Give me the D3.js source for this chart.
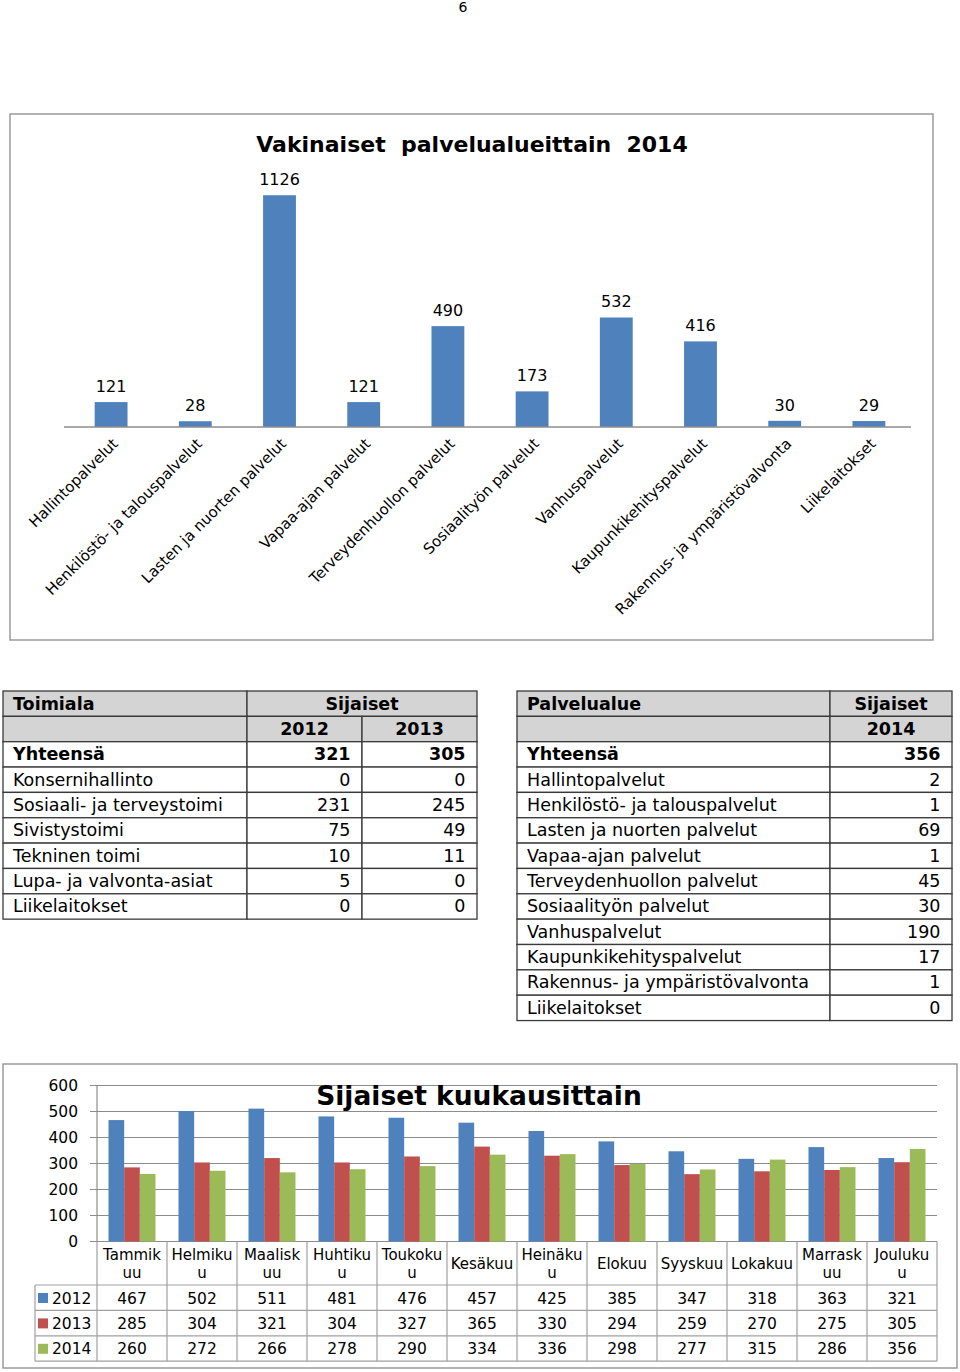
<!DOCTYPE html>
<html>
<head>
<meta charset="utf-8">
<script src="https://cdn.jsdelivr.net/npm/d3@7"></script>
<style>
  body { margin: 0; background: #fff; }
  svg { display: block; font-family: "DejaVu Sans", Verdana, sans-serif; }
</style>
</head>
<body>
<svg id="page" width="960" height="1372"></svg>
<script>
// --- data ---
const services = ["Hallintopalvelut", "Henkilöstö- ja talouspalvelut", "Lasten ja nuorten palvelut",
  "Vapaa-ajan palvelut", "Terveydenhuollon palvelut", "Sosiaalityön palvelut", "Vanhuspalvelut",
  "Kaupunkikehityspalvelut", "Rakennus- ja ympäristövalvonta", "Liikelaitokset"];
const permanent2014 = [121, 28, 1126, 121, 490, 173, 532, 416, 30, 29];

const divisions = ["Konsernihallinto", "Sosiaali- ja terveystoimi", "Sivistystoimi",
  "Tekninen toimi", "Lupa- ja valvonta-asiat", "Liikelaitokset"];
const subs2012 = [0, 231, 75, 10, 5, 0];
const subs2013 = [0, 245, 49, 11, 0, 0];
const subs2014 = [2, 1, 69, 1, 45, 30, 190, 17, 1, 0];

const months = ["Tammikuu", "Helmikuu", "Maaliskuu", "Huhtikuu", "Toukokuu", "Kesäkuu",
  "Heinäkuu", "Elokuu", "Syyskuu", "Lokakuu", "Marraskuu", "Joulukuu"];
// month names as wrapped in the original table cells
const monthLines = [["Tammik", "uu"], ["Helmiku", "u"], ["Maalisk", "uu"], ["Huhtiku", "u"],
  ["Toukoku", "u"], ["Kesäkuu"], ["Heinäku", "u"], ["Elokuu"], ["Syyskuu"], ["Lokakuu"],
  ["Marrask", "uu"], ["Jouluku", "u"]];
const years = ["2012", "2013", "2014"];
const monthly2012 = [467, 502, 511, 481, 476, 457, 425, 385, 347, 318, 363, 321];
const monthly2013 = [285, 304, 321, 304, 327, 365, 330, 294, 259, 270, 275, 305];
const monthly2014 = [260, 272, 266, 278, 290, 334, 336, 298, 277, 315, 286, 356];
const yTicks = [0, 100, 200, 300, 400, 500, 600];

const seriesColor = d3.scaleOrdinal().domain(years).range(["#4f81bd", "#c0504d", "#9bbb59"]);

const svg = d3.select("#page");
svg.append("rect").attr("width", 960).attr("height", 1372).attr("fill", "#fff");

// page number
svg.append("text").attr("x", 463).attr("y", 12).attr("text-anchor", "middle")
  .attr("font-size", 14).text("6");

// ===== Chart 1: Vakinaiset palvelualueittain 2014 =====
const chart1 = svg.append("g");
chart1.append("rect").attr("x", 10).attr("y", 114).attr("width", 923).attr("height", 526)
  .attr("fill", "none").attr("stroke", "#9a9a9a").attr("stroke-width", 1.5);

chart1.append("text").attr("x", 472).attr("y", 152).attr("text-anchor", "middle")
  .attr("font-size", 22).attr("font-weight", "bold").style("white-space", "pre")
  .text("Vakinaiset  palvelualueittain  2014");

const x = d3.scaleBand().domain(services).range([69, 911]).paddingInner(0.61).paddingOuter(0.305);
const y = d3.scaleLinear().domain([0, 1200]).range([427, 180]);

chart1.append("g").selectAll("rect")
  .data(services)
  .join("rect")
  .attr("x", d => x(d))
  .attr("y", (d, i) => y(permanent2014[i]))
  .attr("width", x.bandwidth())
  .attr("height", (d, i) => y(0) - y(permanent2014[i]))
  .attr("fill", "#4f81bd");

chart1.append("line").attr("x1", 64).attr("x2", 911).attr("y1", y(0)).attr("y2", y(0))
  .attr("stroke", "#8c8c8c").attr("stroke-width", 1.5);

chart1.append("g").selectAll("text")
  .data(services)
  .join("text")
  .attr("x", d => x(d) + x.bandwidth() / 2)
  .attr("y", (d, i) => y(permanent2014[i]) - 10)
  .attr("text-anchor", "middle")
  .attr("font-size", 16)
  .text((d, i) => permanent2014[i]);

chart1.append("g").selectAll("text")
  .data(services)
  .join("text")
  .attr("transform", d => `translate(${x(d) + x.bandwidth() / 2 + 4},441) rotate(-45)`)
  .attr("text-anchor", "end")
  .attr("dy", "0.35em")
  .attr("font-size", 15)
  .text(d => d);

// ===== Tables =====
function drawTable(g, cols, y0, rowH, rows) {
  rows.forEach((row, i) => {
    const ry = y0 + i * rowH;
    let c = 0;
    row.cells.forEach(cell => {
      const span = cell.span || 1;
      const x0 = cols[c], x1 = cols[c + span];
      g.append("rect").attr("x", x0).attr("y", ry).attr("width", x1 - x0).attr("height", rowH)
        .attr("fill", row.fill || "#fff").attr("stroke", "#3a3a3a").attr("stroke-width", 1.3);
      if (cell.text !== "") {
        const tx = cell.align === "left" ? x0 + 10 : cell.align === "right" ? x1 - 11.5 : (x0 + x1) / 2;
        g.append("text").attr("x", tx).attr("y", ry + 18.5)
          .attr("text-anchor", cell.align === "left" ? "start" : cell.align === "right" ? "end" : "middle")
          .attr("font-size", 17.5)
          .attr("font-weight", row.bold ? "bold" : "normal")
          .text(cell.text);
      }
      c += span;
    });
  });
}

const rowH = 25.35;
const leftRows = [
  { fill: "#d4d4d4", bold: true, cells: [{ text: "Toimiala", align: "left" }, { text: "Sijaiset", span: 2 }] },
  { fill: "#d4d4d4", bold: true, cells: [{ text: "" }, { text: "2012" }, { text: "2013" }] },
  { bold: true, cells: [{ text: "Yhteensä", align: "left" }, { text: d3.sum(subs2012), align: "right" }, { text: d3.sum(subs2013), align: "right" }] }
].concat(divisions.map((d, i) => ({
  cells: [{ text: d, align: "left" }, { text: subs2012[i], align: "right" }, { text: subs2013[i], align: "right" }]
})));
drawTable(svg.append("g"), [3, 247, 362, 477], 691, rowH, leftRows);

const rightRows = [
  { fill: "#d4d4d4", bold: true, cells: [{ text: "Palvelualue", align: "left" }, { text: "Sijaiset" }] },
  { fill: "#d4d4d4", bold: true, cells: [{ text: "" }, { text: "2014" }] },
  { bold: true, cells: [{ text: "Yhteensä", align: "left" }, { text: d3.sum(subs2014), align: "right" }] }
].concat(services.map((d, i) => ({
  cells: [{ text: d, align: "left" }, { text: subs2014[i], align: "right" }]
})));
drawTable(svg.append("g"), [517, 830, 952], 691, rowH, rightRows);

// ===== Chart 2: Sijaiset kuukausittain =====
const chart2 = svg.append("g");
chart2.append("rect").attr("x", 3).attr("y", 1064).attr("width", 954).attr("height", 304)
  .attr("fill", "none").attr("stroke", "#9a9a9a").attr("stroke-width", 1.5);

const xm = d3.scaleBand().domain(months).range([97, 937]);
const x1 = d3.scaleBand().domain(years).range([11.5, 58.5]);
const ym = d3.scaleLinear().domain([0, 600]).range([1241.5, 1085.5]);

// gridlines + y labels
chart2.append("g").selectAll("line")
  .data(yTicks)
  .join("line")
  .attr("x1", 90).attr("x2", 937)
  .attr("y1", d => ym(d)).attr("y2", d => ym(d))
  .attr("stroke", "#8c8c8c").attr("stroke-width", 1.2);
chart2.append("line").attr("x1", 97).attr("x2", 97).attr("y1", ym(600)).attr("y2", ym(0))
  .attr("stroke", "#8c8c8c").attr("stroke-width", 1.2);
chart2.append("g").selectAll("text")
  .data(yTicks)
  .join("text")
  .attr("x", 78).attr("y", d => ym(d) + 5.5)
  .attr("text-anchor", "end").attr("font-size", 15.5)
  .text(d => d);

chart2.append("text").attr("x", 479).attr("y", 1105).attr("text-anchor", "middle")
  .attr("font-size", 26.5).attr("font-weight", "bold").text("Sijaiset kuukausittain");

const monthly = { "2012": monthly2012, "2013": monthly2013, "2014": monthly2014 };

chart2.append("g").selectAll("g")
  .data(months)
  .join("g")
  .attr("transform", d => `translate(${xm(d)},0)`)
  .selectAll("rect")
  .data((d, i) => years.map(yr => ({ yr, v: monthly[yr][i] })))
  .join("rect")
  .attr("x", d => x1(d.yr))
  .attr("y", d => ym(d.v))
  .attr("width", x1.bandwidth())
  .attr("height", d => ym(0) - ym(d.v))
  .attr("fill", d => seriesColor(d.yr));

// data table under the chart
const tblTop = 1241.5, headH = 43.5, dRowH = 25.4;
const tbl = chart2.append("g").attr("stroke", "#a0a0a0").attr("stroke-width", 1.2);
// vertical lines at month boundaries
tbl.selectAll("line.v")
  .data(months.concat(["end"]))
  .join("line")
  .attr("x1", d => d === "end" ? 937 : xm(d))
  .attr("x2", d => d === "end" ? 937 : xm(d))
  .attr("y1", tblTop).attr("y2", tblTop + headH + 3 * dRowH);
tbl.append("line").attr("x1", 35).attr("x2", 35)
  .attr("y1", tblTop + headH).attr("y2", tblTop + headH + 3 * dRowH);
tbl.selectAll("line.h")
  .data([0, 1, 2, 3])
  .join("line")
  .attr("x1", 35).attr("x2", 937)
  .attr("y1", d => tblTop + headH + d * dRowH)
  .attr("y2", d => tblTop + headH + d * dRowH);

// month headers
chart2.append("g").selectAll("text")
  .data(months)
  .join("text")
  .attr("text-anchor", "middle")
  .attr("font-size", 15)
  .each(function (d, i) {
    const lines = monthLines[i];
    const cx = xm(d) + xm.bandwidth() / 2;
    const y0 = lines.length === 1 ? 1269 : 1260;
    d3.select(this).selectAll("tspan")
      .data(lines)
      .join("tspan")
      .attr("x", cx)
      .attr("y", (l, j) => y0 + j * 18)
      .text(l => l);
  });

// year rows
years.forEach((yr, r) => {
  const ry = tblTop + headH + r * dRowH;
  chart2.append("rect").attr("x", 38).attr("y", ry + 8).attr("width", 10).attr("height", 10)
    .attr("fill", seriesColor(yr));
  chart2.append("text").attr("x", 52).attr("y", ry + 18.5).attr("font-size", 15.5).text(yr);
  chart2.append("g").selectAll("text")
    .data(months)
    .join("text")
    .attr("x", d => xm(d) + xm.bandwidth() / 2)
    .attr("y", ry + 18.5)
    .attr("text-anchor", "middle")
    .attr("font-size", 15.5)
    .text((d, i) => monthly[yr][i]);
});
</script>
</body>
</html>
